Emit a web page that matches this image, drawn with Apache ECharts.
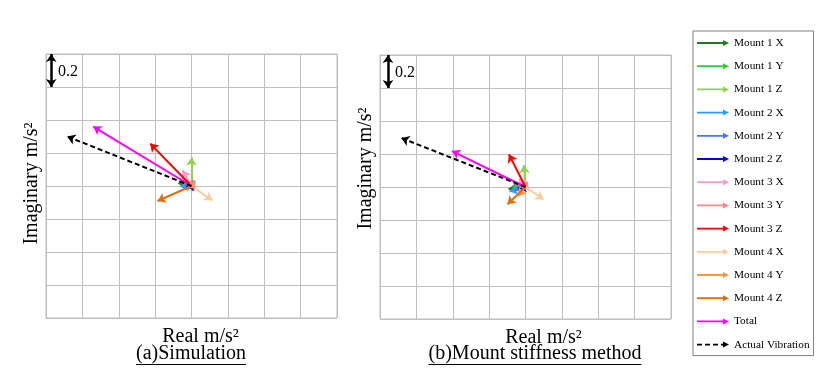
<!DOCTYPE html>
<html><head><meta charset="utf-8">
<script src="https://cdn.jsdelivr.net/npm/echarts@6/dist/echarts.min.js"></script>
<style>html,body{margin:0;padding:0;background:#fff}#c{width:838px;height:387px}</style>
</head><body><div id="c"></div>
<script>
const seriesNames = ['Mount 1 X','Mount 1 Y','Mount 1 Z','Mount 2 X','Mount 2 Y','Mount 2 Z','Mount 3 X','Mount 3 Y','Mount 3 Z','Mount 4 X','Mount 4 Y','Mount 4 Z','Total','Actual Vibration'];
const seriesColors = ['#1e7b1e','#33cc33','#92d050','#3399ff','#4a7bea','#0000ee','#ff99cc','#ff8585','#ff0000','#ffcc99','#ff9a3c','#e36c0a','#ff00ff','#000000'];
// (a) Simulation
const simReal = [-0.072,-0.050, 0.000,-0.062, 0.008,-0.030,-0.050, 0.018,-0.227, 0.114, 0.020,-0.187,-0.540,-0.683];
const simImag = [ 0.018, 0.008, 0.172,-0.002,-0.030,-0.006, 0.095, 0.035, 0.257,-0.087,-0.012,-0.091, 0.360, 0.300];
// (b) Mount stiffness method
const msmReal = [-0.093,-0.070,-0.009,-0.088,-0.060,-0.040,-0.035, 0.010,-0.091, 0.099,-0.040,-0.099,-0.404,-0.683];
const msmImag = [-0.012, 0.005, 0.133,-0.028,-0.020,-0.008, 0.050, 0.030, 0.198,-0.075,-0.055,-0.105, 0.218, 0.297];
const axisMin = -0.8, axisMax = 0.8, axisStep = 0.2;
const scaleBarValue = 0.2;
const panelTitles = ['(a)Simulation','(b)Mount stiffness method'];
const xName = 'Real m/s\u00b2', yName = 'Imaginary m/s\u00b2';

const FONT = '"Liberation Serif","Times New Roman",serif';
const chart = echarts.init(document.getElementById('c'), null, {renderer:'canvas'});

const grids = [
  {left:46, top:54, width:291, height:264, show:true, borderColor:'#bfbfbf', borderWidth:1},
  {left:380, top:55, width:291, height:264, show:true, borderColor:'#bfbfbf', borderWidth:1}
];
function mkX(i, shift){return {gridIndex:i, type:'value', min:axisMin, max:axisMax, interval:axisStep,
  axisLabel:{show:false}, axisTick:{show:false}, axisLine:{show:false},
  splitLine:{show:true, lineStyle:{color:'#bfbfbf', width:1}},
  name:xName, nameLocation:'middle', nameGap:9,
  nameTextStyle:{fontFamily:FONT, fontSize:20, color:'#000', padding:[0,0,0,shift]}};}
function mkY(i, shift){return {gridIndex:i, type:'value', min:axisMin, max:axisMax, interval:axisStep,
  axisLabel:{show:false}, axisTick:{show:false}, axisLine:{show:false},
  splitLine:{show:true, lineStyle:{color:'#bfbfbf', width:1}},
  name:yName, nameLocation:'middle', nameGap:4,
  nameTextStyle:{fontFamily:FONT, fontSize:20, color:'#000', padding:[0,0,0,shift]}};}

const series = [];
[[simReal, simImag],[msmReal, msmImag]].forEach(([re, im], g) => {
  seriesNames.forEach((n, k) => {
    const dashed = n === 'Actual Vibration';
    series.push({
      type:'lines', name:n, coordinateSystem:'cartesian2d', xAxisIndex:g, yAxisIndex:g,
      symbol:['none','arrow'], symbolSize:8, z: 2 + k,
      lineStyle:{color:seriesColors[k], width:2, opacity:1, type: dashed ? [5,3] : 'solid'},
      data:[{coords:[[0,0],[re[k], im[k]]]}]
    });
  });
  const bx = axisMin + (g === 0 ? 0.029 : 0.044);
  series.push({
    type:'lines', name:'scale'+g, coordinateSystem:'cartesian2d', xAxisIndex:g, yAxisIndex:g,
    symbol:['arrow','arrow'], symbolSize:8, z:20,
    lineStyle:{color:'#000', width:2.5, opacity:1},
    data:[{coords:[[bx, axisMax],[bx, axisMax - scaleBarValue]]}]
  });
});

const arrowIcon = 'path://M0,2.6L26,2.6L26,0.5L32,3.5L26,6.5L26,4.4L0,4.4Z';
const dashIcon = 'path://M0,2.6L5,2.6L5,4.4L0,4.4Z M8,2.6L13,2.6L13,4.4L8,4.4Z M16,2.6L21,2.6L21,4.4L16,4.4Z M24,2.6L27,2.6L27,4.4L24,4.4Z M26,0.5L32,3.5L26,6.5Z';

const cv = document.createElement('canvas').getContext('2d');
const capFont = 20;
cv.font = capFont + 'px "Liberation Serif"';
const capCenters = [191, 535];
const graphics = [];
panelTitles.forEach((t, i) => {
  const w = cv.measureText(t).width;
  graphics.push({type:'text', x:capCenters[i], y:354, style:{text:t, font: capFont+'px "Liberation Serif"', fill:'#000', textAlign:'center', textVerticalAlign:'middle'}});
  graphics.push({type:'line', shape:{x1:capCenters[i]-w/2, y1:364.5, x2:capCenters[i]+w/2, y2:364.5}, style:{stroke:'#000', lineWidth:1}});
});
graphics.push({type:'text', x:58, y:72, style:{text:String(scaleBarValue), font:'16px "Liberation Serif"', fill:'#000', textAlign:'left', textVerticalAlign:'middle'}});
graphics.push({type:'text', x:395, y:73, style:{text:String(scaleBarValue), font:'16px "Liberation Serif"', fill:'#000', textAlign:'left', textVerticalAlign:'middle'}});

chart.setOption({
  backgroundColor:'#fff',
  animation:false,
  grid:grids,
  xAxis:[mkX(0,18), mkX(1,36)],
  yAxis:[mkY(0,5), mkY(1,37)],
  legend:{
    orient:'vertical', left:693, top:31, selectedMode:false,
    padding:[5,4,4,4], itemGap:9.2, itemWidth:32, itemHeight:7,
    borderColor:'#7f7f7f', borderWidth:1,
    itemStyle:{borderWidth:0},
    textStyle:{fontFamily:FONT, fontSize:11.3, color:'#000', lineHeight:14},
    data: seriesNames.map((n,k)=>({name:n, icon: n==='Actual Vibration' ? dashIcon : arrowIcon, itemStyle:{color:seriesColors[k], borderWidth:0}}))
  },
  graphic:graphics,
  series:series
});
</script>
</body></html>
